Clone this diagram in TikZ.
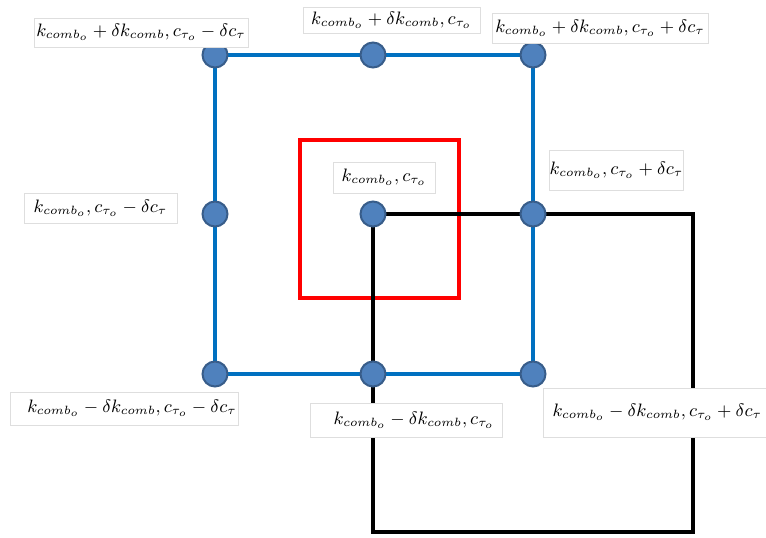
\documentclass[tikz,border=0pt]{standalone}
\usepackage{amsmath}
\definecolor{lineblue}{RGB}{0,112,192}
\definecolor{dotfill}{RGB}{79,129,189}
\definecolor{dotedge}{RGB}{56,93,138}
\definecolor{boxedge}{RGB}{222,222,222}
\begin{document}
\begin{tikzpicture}[x=0.5pt,y=-0.5pt,
  lbl/.style={draw=boxedge, fill=white, line width=0.5pt, inner sep=0pt, font=\fontsize{9.2}{11}\selectfont, text=black},
  dot/.style={circle, fill=dotfill, draw=dotedge, line width=1pt, minimum size=12.5pt, inner sep=0pt},
  blueline/.style={draw=lineblue, line width=1.6pt},
  redline/.style={draw=red, line width=1.6pt},
  blackline/.style={draw=black, line width=1.6pt}]
\useasboundingbox (0,0) rectangle (766,537);
% grid points
\coordinate (tl) at (215,55);
\coordinate (tm) at (373,55);
\coordinate (tr) at (533,55);
\coordinate (ml) at (215,214);
\coordinate (c)  at (373,214);
\coordinate (mr) at (533,214);
\coordinate (bl) at (215,374);
\coordinate (bm) at (373,374);
\coordinate (br) at (533,374);
\coordinate (k1) at (693,214);
\coordinate (k2) at (693,532);
\coordinate (k3) at (373,532);
% squares
\draw[blueline] (tl) -- (tm) -- (tr) -- (mr) -- (br) -- (bm) -- (bl) -- (ml) -- cycle;
\draw[redline] (300,140) rectangle (459,298);
\draw[blackline] (c) -- (mr) -- (k1) -- (k2) -- (k3) -- (bm) -- cycle;
% dots
\foreach \p in {tl,tm,tr,ml,c,mr,bl,bm,br}
  \node[dot] (d\p) at (\p) {};
% labels
\node[lbl, minimum width=107pt, minimum height=14.5pt] (Ltl) at (141,32.5)
  {$k_{comb_o}+\delta k_{comb},c_{\tau_o}-\delta c_\tau$};
\node[lbl, minimum width=88.5pt, minimum height=13pt] (Ltm) at (391.5,20)
  {$k_{comb_o}+\delta k_{comb},c_{\tau_o}$};
\node[lbl, minimum width=108pt, minimum height=15pt] (Ltr) at (600,28)
  {$k_{comb_o}+\delta k_{comb},c_{\tau_o}+\delta c_\tau$};
\node[lbl, minimum width=66.5pt, minimum height=20pt] (Lmr) at (616.5,170)
  {$k_{comb_o},c_{\tau_o}+\delta c_\tau$};
\node[lbl, minimum width=51pt, minimum height=15.5pt] (Lc) at (384,177.5)
  {$k_{comb_o},c_{\tau_o}$};
\node[lbl, minimum width=76.5pt, minimum height=15pt] (Lml) at (100.5,208)
  {$k_{comb_o},c_{\tau_o}-\delta c_\tau$};
\node[lbl, minimum width=114pt, minimum height=16.5pt] (Lbl) at (124,408.5)
  {\hspace*{8pt}$k_{comb_o}-\delta k_{comb},c_{\tau_o}-\delta c_\tau$};
\node[lbl, minimum width=96pt, minimum height=17pt] (Lbm) at (406,420)
  {\hspace*{8pt}$k_{comb_o}-\delta k_{comb},c_{\tau_o}$};
\node[lbl, anchor=west, inner xsep=4.5pt, minimum height=24.5pt] (Lbr) at (543,412.5)
  {$k_{comb_o}-\delta k_{comb},c_{\tau_o}+\delta c_\tau$\hspace*{6pt}};
\end{tikzpicture}
\end{document}
